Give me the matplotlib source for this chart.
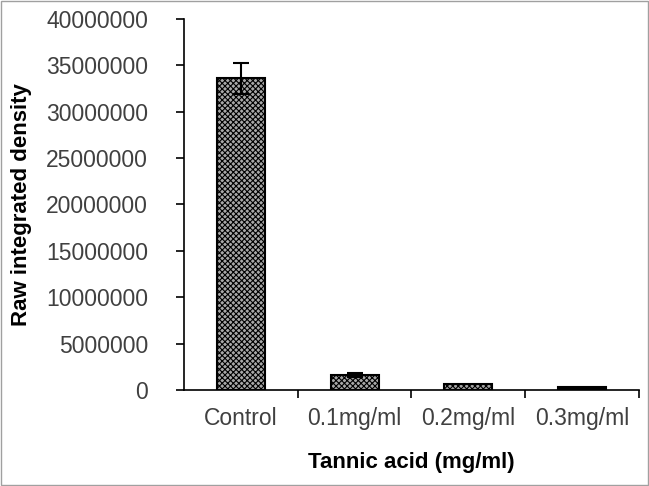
import numpy as np
import matplotlib.pyplot as plt
from matplotlib.patches import Rectangle

plt.rcParams['font.family'] = ['Liberation Sans', 'DejaVu Sans']
plt.rcParams['hatch.linewidth'] = 0.8

# data
categories = ['Control', '0.1mg/ml', '0.2mg/ml', '0.3mg/ml']
values = [33600000, 1650000, 650000, 300000]
errors = [1650000, 200000, 0, 0]
hatches = ['xxxxxx', 'xxxxxx', 'xxxxxx', '']
faces = ['#a8a8a8', '#a8a8a8', '#a8a8a8', 'black']
yticks = np.arange(0, 40000001, 5000000)

fig = plt.figure(figsize=(6.49, 4.86), dpi=100)
ax = fig.add_axes([0.2835, 0.1975, 0.7011, 0.7635])

x = np.arange(len(categories))
for i in range(len(categories)):
    ax.bar(x[i], values[i], width=0.42, color=faces[i], edgecolor='black',
           linewidth=1.5, hatch=hatches[i])
    if errors[i] > 0:
        ax.errorbar(x[i], values[i], yerr=errors[i], fmt='none', ecolor='black',
                    elinewidth=1.5, capsize=6, capthick=1.5)

ax.set_xlim(-0.5, len(categories) - 0.5)
ax.set_ylim(0, 40000000)
ax.set_yticks(yticks)
ax.set_yticklabels([str(v) for v in yticks], fontsize=16.5, color='#404040')
ax.set_xticks(x)
ax.set_xticklabels(categories, fontsize=16.5, color='#404040')
ax.tick_params(axis='x', length=0, pad=12)
ax.set_xticks(np.arange(0.5, len(categories) - 0.5 + 0.01, 1), minor=True)
ax.tick_params(axis='x', which='minor', length=6, width=1.2, direction='out')
ax.tick_params(axis='y', length=6, width=1.2, direction='out', pad=20)

ax.spines['top'].set_visible(False)
ax.spines['right'].set_visible(False)
ax.spines['left'].set_linewidth(1.2)
ax.spines['bottom'].set_linewidth(1.2)

ax.set_ylabel('Raw integrated density', fontsize=16, fontweight='bold', labelpad=10)
ax.set_xlabel('Tannic acid (mg/ml)', fontsize=16, fontweight='bold', labelpad=16)

# light border round the picture
fig.patches.append(Rectangle((0.002, 0.002), 0.996, 0.996, transform=fig.transFigure,
                             fill=False, edgecolor='#a0a0a0', linewidth=1))

fig.savefig('out.png', dpi=100)
